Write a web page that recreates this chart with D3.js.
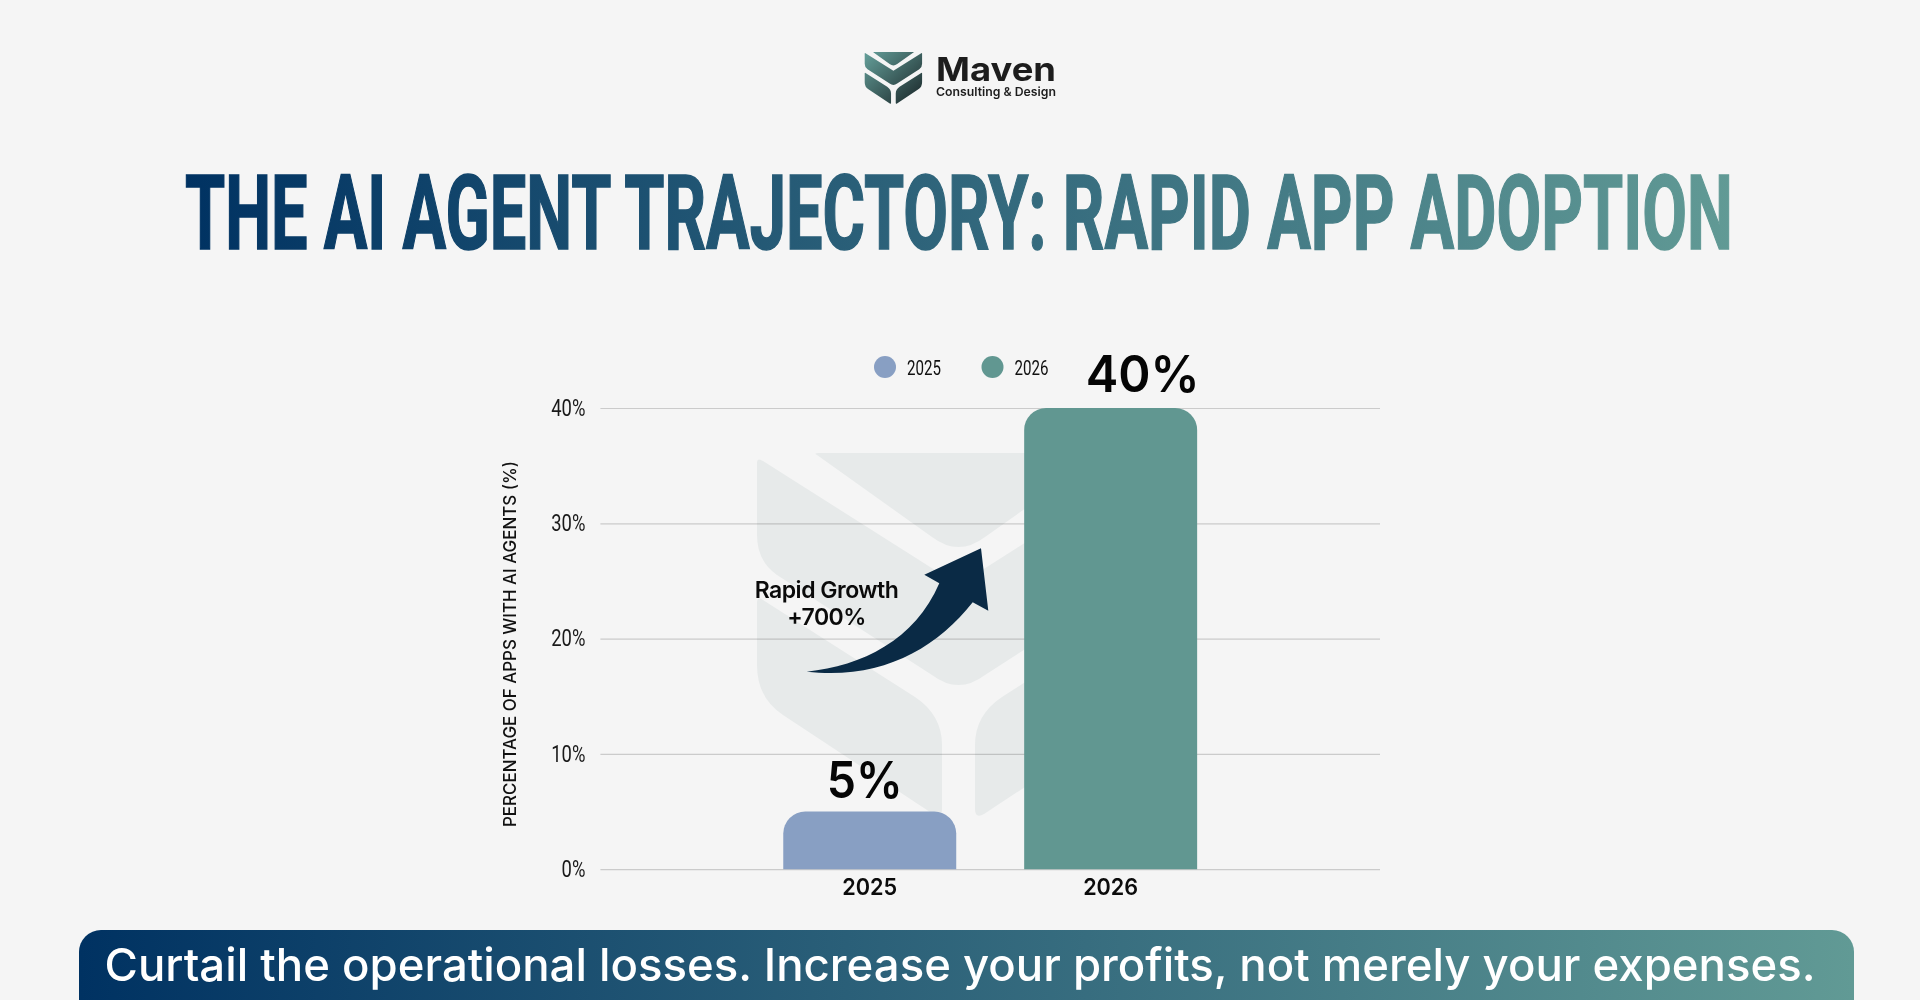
<!DOCTYPE html>
<html>
<head>
<meta charset="utf-8">
<title>The AI Agent Trajectory</title>
<script src="https://cdn.jsdelivr.net/npm/d3@7"></script>
<style>
  html, body { margin: 0; padding: 0; background: #f5f5f5; overflow: hidden; }
  svg { display: block; }
  text { font-family: Inter, "Open Sans", sans-serif; }
  .narrow { font-family: "Liberation Sans Narrow", "Roboto", sans-serif; }
</style>
</head>
<body>
<div id="graph-container"></div>
<script>
// Chart values
const categories = ['2025', '2026'];
const seriesValues = [5, 40];
const valueLabels = ['5%', '40%'];
const barColors = ['#889fc3', '#619791'];
const yTicks = [0, 10, 20, 30, 40];
const yAxisTitle = 'PERCENTAGE OF APPS WITH AI AGENTS (%)';
const annotationLines = ['Rapid Growth', '+700%'];
const titleText = 'THE AI AGENT TRAJECTORY: RAPID APP ADOPTION';
const bannerText = 'Curtail the operational losses. Increase your profits, not merely your expenses.';

// Logo pieces, drawn in a 403 wide box; used for the small logo and for the watermark
const logoPieces = [
  'M60,2 Q56,0 62,0 L403,0 L347,0 L228,84 Q201.5,104 175,84 Z',
  'M0,10 Q0,4 6,8 L201.5,132 L397,8 Q403,4 403,10 L403,82 Q403,108 383,122 L228,222 Q201.5,242 175,222 L20,122 Q0,108 0,82 Z',
  'M0,150 Q0,143 6,147 L158,244 Q185,262 185,292 L185,356 Q185,366 176,361 L26,262 Q0,245 0,212 Z',
  'M403,150 Q403,143 397,147 L245,244 Q218,262 218,292 L218,356 Q218,366 227,361 L377,262 Q403,245 403,212 Z'
];

const w = 1920;
const h = 1000;
const plot = { left: 600.4, right: 1380, top: 408, bottom: 869.2 };
const barRadius = 22;

const svg = d3
  .select('#graph-container')
  .append('svg')
  .attr('width', w)
  .attr('height', h);

// Gradients
const defs = svg.append('defs');

function addGradient(id, x1, y1, x2, y2, stops) {
  const grad = defs
    .append('linearGradient')
    .attr('id', id)
    .attr('gradientUnits', 'userSpaceOnUse')
    .attr('x1', x1)
    .attr('y1', y1)
    .attr('x2', x2)
    .attr('y2', y2);
  stops.forEach((s, i) => {
    grad
      .append('stop')
      .attr('offset', i / (stops.length - 1))
      .attr('stop-color', s);
  });
}

addGradient('banner-grad', 79, 0, 1854, 0, ['#003262', '#619a95']);
addGradient('logo-grad', 40, 0, 370, 360, ['#619a95', '#1c2a2c']);

svg.append('rect').attr('width', w).attr('height', h).attr('fill', '#f5f5f5');

// Small logo + name
const logo = svg
  .append('g')
  .attr('transform', 'translate(864.7,52) scale(0.1424)');
logo
  .selectAll('path')
  .data(logoPieces)
  .enter()
  .append('path')
  .attr('d', (d) => d)
  .attr('fill', 'url(#logo-grad)');

svg
  .append('text')
  .attr('x', 936)
  .attr('y', 80.7)
  .attr('font-size', 33)
  .attr('font-weight', 700)
  .attr('fill', '#1d1d1d')
  .attr('textLength', 120)
  .attr('lengthAdjust', 'spacingAndGlyphs')
  .text('Maven');

svg
  .append('text')
  .attr('x', 936)
  .attr('y', 96)
  .attr('font-size', 12)
  .attr('font-weight', 600)
  .attr('fill', '#1d1d1d')
  .attr('textLength', 120)
  .attr('lengthAdjust', 'spacingAndGlyphs')
  .text('Consulting & Design');

// Title, squeezed to the width of the original with a transform.
// The gradient runs in text units, so it needs the measured length first.
const title = svg
  .append('text')
  .attr('class', 'narrow')
  .attr('font-size', 104)
  .attr('font-weight', 700)
  .attr('stroke-width', 1.6)
  .text(titleText);

const titleLen = title.node().getComputedTextLength();
addGradient('title-grad', 0, 0, titleLen, 0, ['#003262', '#619a95']);
title
  .attr('transform', `translate(185,248.5) scale(${1548 / titleLen},1)`)
  .attr('fill', 'url(#title-grad)')
  .attr('stroke', 'url(#title-grad)');

// Watermark behind the chart
const watermark = svg
  .append('g')
  .attr('transform', 'translate(757,453)');
watermark
  .selectAll('path')
  .data(logoPieces)
  .enter()
  .append('path')
  .attr('d', (d) => d)
  .attr('fill', '#e7eaea');

// Scales
const xscale = d3
  .scaleBand()
  .domain(categories)
  .range([plot.left, plot.right])
  .paddingInner(0.282)
  .paddingOuter(0.759);

const yscale = d3
  .scaleLinear()
  .domain([0, 40])
  .range([plot.bottom, plot.top]);

// Y axis with the gridlines
const yAxis = d3
  .axisLeft(yscale)
  .tickValues(yTicks)
  .tickFormat((d) => d + '%')
  .tickSize(-(plot.right - plot.left))
  .tickPadding(15);

const yAxisG = svg
  .append('g')
  .attr('id', 'y-axis')
  .attr('transform', 'translate(' + plot.left + ',0)')
  .call(yAxis);
yAxisG.select('.domain').remove();
yAxisG
  .selectAll('.tick line')
  .attr('stroke', '#d4d4d4')
  .attr('stroke-width', 1.2)
  .style('mix-blend-mode', 'multiply');
yAxisG
  .selectAll('.tick text')
  .attr('class', 'narrow')
  .attr('font-size', 23)
  .attr('fill', '#1a1a1a')
  .attr('lengthAdjust', 'spacingAndGlyphs')
  .each(function () {
    // Tick font of the original is narrower than anything installed
    this.setAttribute('textLength', this.getComputedTextLength() * 0.8);
  });

// Axis title
svg
  .append('text')
  .attr('transform', 'translate(515.5,827) rotate(-90)')
  .attr('font-size', 17.5)
  .attr('font-weight', 500)
  .attr('fill', '#111')
  .attr('textLength', 366)
  .attr('lengthAdjust', 'spacingAndGlyphs')
  .text(yAxisTitle);

// Bars, rounded on the top corners only
function barPath(d, i) {
  const x0 = xscale(categories[i]);
  const x1 = x0 + xscale.bandwidth();
  const y0 = yscale(0);
  const y1 = yscale(d);
  const r = barRadius;
  return (
    `M${x0},${y0} V${y1 + r} A${r},${r} 0 0 1 ${x0 + r},${y1} ` +
    `H${x1 - r} A${r},${r} 0 0 1 ${x1},${y1 + r} V${y0} Z`
  );
}

svg
  .selectAll('path.bar')
  .data(seriesValues)
  .enter()
  .append('path')
  .attr('class', 'bar')
  .attr('d', barPath)
  .attr('fill', (d, i) => barColors[i]);

// Value labels are not centred on the bars in the original
const labelShift = [-5, 32];
const labelLift = [14, 16];
const labelWidth = [76, 114];
svg
  .selectAll('text.value')
  .data(seriesValues)
  .enter()
  .append('text')
  .attr('class', 'value')
  .attr('x', (d, i) => xscale(categories[i]) + xscale.bandwidth() / 2 + labelShift[i])
  .attr('y', (d, i) => yscale(d) - labelLift[i])
  .attr('text-anchor', 'middle')
  .attr('font-size', 51)
  .attr('font-weight', 600)
  .attr('fill', '#050505')
  .attr('textLength', (d, i) => labelWidth[i])
  .attr('lengthAdjust', 'spacingAndGlyphs')
  .text((d, i) => valueLabels[i]);

// X axis
const xAxis = d3.axisBottom(xscale).tickSize(0).tickPadding(0);
const xAxisG = svg
  .append('g')
  .attr('id', 'x-axis')
  .attr('transform', 'translate(0,' + plot.bottom + ')')
  .call(xAxis);
xAxisG.select('.domain').remove();
xAxisG
  .selectAll('.tick text')
  .attr('dy', null)
  .attr('y', 25.7)
  .attr('font-size', 23)
  .attr('font-weight', 600)
  .attr('fill', '#0b0b0b')
  .attr('textLength', 55)
  .attr('lengthAdjust', 'spacingAndGlyphs');

// Legend
const legendX = [885, 992.5];
const legend = svg
  .selectAll('g.legend')
  .data(categories)
  .enter()
  .append('g')
  .attr('class', 'legend')
  .attr('transform', (d, i) => 'translate(' + legendX[i] + ',367)');
legend
  .append('circle')
  .attr('r', 11)
  .attr('fill', (d, i) => barColors[i]);
legend
  .append('text')
  .attr('class', 'narrow')
  .attr('x', 22)
  .attr('y', 7.5)
  .attr('font-size', 21)
  .attr('fill', '#111')
  .attr('textLength', 34)
  .attr('lengthAdjust', 'spacingAndGlyphs')
  .text((d) => d);

// Growth arrow
svg
  .append('path')
  .attr('d',
    'M806.7,671.7 C862,666 915,640 939.3,583.3 L924.3,574.7 L981,548.3 ' +
    'L988.3,610.7 L972.7,602.3 C935,650 880,680 806.7,671.7 Z')
  .attr('fill', '#0a2a45');

svg
  .selectAll('text.annotation')
  .data(annotationLines)
  .enter()
  .append('text')
  .attr('class', 'annotation')
  .attr('x', 826.5)
  .attr('y', (d, i) => 597.5 + i * 27)
  .attr('text-anchor', 'middle')
  .attr('font-size', 23)
  .attr('font-weight', 600)
  .attr('fill', '#0a0a0a')
  .attr('letter-spacing', -0.5)
  .text((d) => d);

// Bottom banner
svg
  .append('path')
  .attr('d', 'M79,1000 V952 A22,22 0 0 1 101,930 H1832 A22,22 0 0 1 1854,952 V1000 Z')
  .attr('fill', 'url(#banner-grad)');

svg
  .append('text')
  .attr('x', 104.5)
  .attr('y', 980.5)
  .attr('font-size', 45)
  .attr('font-weight', 500)
  .attr('fill', '#ffffff')
  .attr('textLength', 1711)
  .attr('lengthAdjust', 'spacingAndGlyphs')
  .text(bannerText);
</script>
</body>
</html>
